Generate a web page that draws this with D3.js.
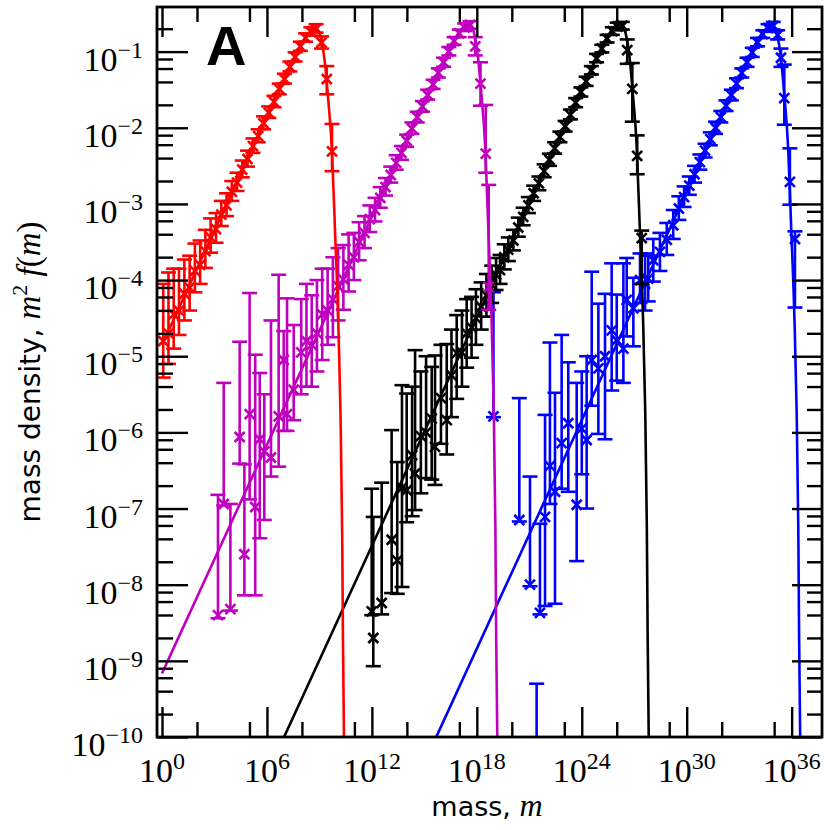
<!DOCTYPE html>
<html><head><meta charset="utf-8">
<script src="https://cdn.jsdelivr.net/npm/d3@7"></script>
<style>body{margin:0;background:#fff}</style>
</head><body>
<svg id="chart" width="830" height="830"></svg>
<script>
// ---------- DATA (log10 of mass m, log10 of m^2 f(m); error bars in decades up / down) ----------
const redCurveLogM = [0,3,5,6.5,7.5,8.0,8.4,8.7,8.9,9.1,9.3,9.5,9.72,9.9,10.08,10.2,10.3,10.35,10.42];
const redCurveLogY = [-4.85,-3.35,-2.35,-1.61,-1.12,-0.89,-0.76,-0.70,-0.72,-0.84,-1.12,-1.62,-2.31,-3.40,-4.55,-5.70,-7.30,-8.80,-10.30];
const magCurveLogM = [0,8.76,11.76,13.76,15.26,16.26,16.76,17.16,17.46,17.66,17.86,18.06,18.26,18.48,18.66,18.84,18.96,19.06,19.11,19.18];
const magCurveLogY = [-9.165,-4.785,-3.285,-2.285,-1.545,-1.055,-0.825,-0.695,-0.635,-0.655,-0.775,-1.055,-1.555,-2.245,-3.335,-4.485,-5.635,-7.235,-8.735,-10.235];
const blkCurveLogM = [6.6,17.42,20.42,22.42,23.92,24.92,25.42,25.82,26.12,26.32,26.52,26.72,26.92,27.14,27.32,27.50,27.62,27.72,27.77,27.84];
const blkCurveLogY = [-10.19,-4.78,-3.28,-2.28,-1.54,-1.05,-0.82,-0.69,-0.63,-0.65,-0.77,-1.05,-1.55,-2.24,-3.33,-4.48,-5.63,-7.23,-8.73,-10.23];
const bluCurveLogM = [15.4,26.08,29.08,31.08,32.58,33.58,34.08,34.48,34.78,34.98,35.18,35.38,35.58,35.80,35.98,36.16,36.28,36.38,36.43,36.50];
const bluCurveLogY = [-10.14,-4.80,-3.30,-2.30,-1.56,-1.07,-0.84,-0.71,-0.65,-0.67,-0.79,-1.07,-1.57,-2.26,-3.35,-4.50,-5.65,-7.25,-8.75,-10.25];

const redLogM = [0.07,0.37,0.67,0.97,1.28,1.58,1.88,2.18,2.48,2.78,3.09,3.39,3.69,3.99,4.29,4.59,4.89,5.20,5.50,5.80,6.10,6.40,6.70,7.00,7.31,7.61,7.91,8.21,8.51,8.81,9.12,9.42,9.72];
const redLogY = [-4.80,-4.70,-4.45,-4.40,-4.18,-4.10,-3.88,-3.80,-3.62,-3.44,-3.33,-3.14,-3.02,-2.84,-2.72,-2.55,-2.41,-2.24,-2.11,-1.94,-1.80,-1.66,-1.49,-1.36,-1.20,-1.07,-0.93,-0.82,-0.74,-0.70,-0.88,-1.36,-2.31];
const redUp = [0.75,0.80,0.60,0.55,0.45,0.42,0.36,0.32,0.28,0.25,0.21,0.18,0.16,0.14,0.13,0.12,0.11,0.10,0.09,0.09,0.08,0.08,0.07,0.07,0.07,0.06,0.06,0.06,0.06,0.06,0.08,0.17,0.36];
const redDn = [0.48,0.40,0.45,0.32,0.35,0.30,0.28,0.25,0.22,0.20,0.18,0.15,0.14,0.12,0.11,0.10,0.10,0.09,0.08,0.08,0.07,0.07,0.07,0.06,0.06,0.06,0.06,0.05,0.05,0.05,0.08,0.20,0.26];

const magLogM = [3.20,3.53,3.91,4.44,4.71,5.01,5.33,5.59,5.85,6.23,6.67,6.96,7.15,7.53,7.96,8.26,8.56,8.86,9.16,9.47,9.77,10.07,10.37,10.67,10.97,11.27,11.58,11.88,12.18,12.48,12.78,13.08,13.39,13.69,13.99,14.29,14.59,14.89,15.19,15.50,15.80,16.10,16.40,16.70,17.00,17.30,17.61,17.91,18.21,18.51,18.68];
const magLogY = [-8.40,-6.94,-8.32,-6.06,-7.60,-5.76,-6.98,-6.09,-6.25,-6.33,-5.79,-5.05,-5.76,-5.44,-4.95,-4.80,-4.85,-4.70,-4.45,-4.40,-4.25,-4.08,-3.99,-3.80,-3.70,-3.50,-3.38,-3.20,-3.08,-2.92,-2.78,-2.62,-2.46,-2.33,-2.17,-2.01,-1.86,-1.72,-1.57,-1.43,-1.28,-1.14,-1.00,-0.86,-0.76,-0.68,-0.65,-0.93,-1.42,-2.34,-4.09];
const magUp = [1.58,1.59,1.38,1.25,1.18,1.59,2.00,0.87,0.75,1.80,1.86,0.38,1.52,0.85,0.70,0.75,0.65,0.70,0.60,0.55,0.55,0.50,0.45,0.40,0.32,0.26,0.22,0.18,0.16,0.14,0.12,0.11,0.10,0.09,0.08,0.08,0.07,0.07,0.07,0.06,0.06,0.06,0.06,0.05,0.05,0.05,0.05,0.12,0.28,0.64,1.34];
const magDn = [0.04,0.02,0.02,0.35,0.54,1.12,1.16,1.30,0.90,0.25,0.66,0.93,0.22,0.40,0.55,0.60,0.55,0.50,0.60,0.45,0.50,0.45,0.40,0.35,0.30,0.24,0.20,0.17,0.15,0.13,0.11,0.10,0.09,0.09,0.08,0.07,0.07,0.07,0.06,0.06,0.06,0.06,0.05,0.05,0.05,0.05,0.05,0.12,0.29,0.25,0.30];

const blkLogM = [11.99,12.08,12.56,13.13,13.45,13.72,13.99,14.30,14.47,14.80,15.10,15.42,15.61,15.95,16.28,16.55,16.85,17.15,17.42,17.70,17.95,18.25,18.55,18.85,19.10,19.33,19.57,19.80,20.09,20.37,20.65,20.95,21.25,21.55,21.85,22.15,22.45,22.75,23.05,23.35,23.65,23.95,24.25,24.55,24.85,25.15,25.45,25.75,26.03,26.32,26.60,26.89,27.17,27.43];
const blkLogY = [-8.35,-8.70,-8.24,-7.41,-7.68,-6.73,-6.76,-6.30,-6.54,-6.05,-6.00,-5.82,-6.19,-5.55,-5.84,-5.25,-4.96,-4.95,-4.70,-4.62,-4.50,-4.35,-4.20,-4.06,-3.93,-3.87,-3.70,-3.60,-3.48,-3.31,-3.17,-3.02,-2.86,-2.73,-2.57,-2.42,-2.27,-2.12,-1.98,-1.83,-1.67,-1.53,-1.39,-1.25,-1.09,-0.96,-0.83,-0.73,-0.67,-0.66,-0.98,-1.49,-2.37,-3.45];
const blkUp = [1.61,1.59,1.58,1.44,1.29,1.35,1.27,0.90,1.62,0.85,1.00,0.68,1.20,0.70,1.00,0.60,0.50,0.55,0.45,0.40,0.38,0.32,0.28,0.25,0.22,0.20,0.17,0.16,0.14,0.13,0.12,0.11,0.10,0.09,0.09,0.08,0.08,0.07,0.07,0.07,0.06,0.06,0.06,0.06,0.06,0.05,0.05,0.05,0.05,0.05,0.14,0.34,0.27,0.10];
const blkDn = [0.05,0.37,0.15,0.70,0.44,1.30,0.42,0.80,0.48,0.75,0.60,0.80,0.50,0.60,0.45,0.55,0.60,0.45,0.45,0.40,0.35,0.30,0.28,0.24,0.20,0.18,0.16,0.15,0.13,0.12,0.11,0.10,0.10,0.09,0.08,0.08,0.07,0.07,0.07,0.06,0.06,0.06,0.06,0.05,0.05,0.05,0.05,0.05,0.05,0.05,0.18,0.43,0.24,0.60];

const bluLogM = [18.95,20.43,21.04,21.42,21.61,21.90,22.18,22.47,22.85,23.23,23.71,24.00,24.28,24.57,24.95,25.33,25.71,26.00,26.38,26.57,26.95,27.33,27.62,27.80,28.09,28.47,28.86,29.23,29.55,29.85,30.15,30.45,30.75,31.05,31.35,31.65,31.95,32.25,32.55,32.85,33.15,33.45,33.75,34.05,34.35,34.65,34.95,35.20,35.39,35.58,35.90,36.19];
const bluLogY = [-5.79,-7.15,-8.00,-10.60,-8.37,-7.11,-6.44,-6.78,-6.14,-5.88,-6.95,-5.95,-6.10,-5.05,-5.16,-5.00,-4.66,-4.79,-4.90,-4.26,-4.37,-4.00,-4.05,-3.98,-3.74,-3.63,-3.47,-3.28,-3.06,-2.91,-2.76,-2.61,-2.45,-2.30,-2.15,-2.00,-1.86,-1.71,-1.57,-1.42,-1.28,-1.14,-1.01,-0.88,-0.77,-0.69,-0.66,-0.78,-1.08,-1.61,-2.71,-3.46];
const bluUp = [1.63,1.60,1.42,1.30,1.17,1.34,1.62,1.30,1.42,0.80,1.60,0.75,1.10,1.16,0.85,0.82,0.88,0.60,1.12,0.55,0.40,0.35,0.40,0.30,0.28,0.25,0.22,0.20,0.16,0.14,0.12,0.11,0.10,0.09,0.09,0.08,0.08,0.07,0.07,0.07,0.06,0.06,0.06,0.06,0.05,0.05,0.05,0.06,0.12,0.44,0.44,0.10];
const bluDn = [0.01,0.02,0.02,0.02,0.02,1.17,0.50,1.47,0.60,0.90,0.74,0.60,0.90,0.60,0.86,1.09,0.79,0.53,0.45,0.48,0.50,0.30,0.35,0.30,0.28,0.25,0.20,0.18,0.15,0.13,0.12,0.11,0.10,0.09,0.08,0.08,0.07,0.07,0.07,0.06,0.06,0.06,0.06,0.05,0.05,0.05,0.05,0.06,0.12,0.35,0.30,0.90];

const xMajorExp = [0,6,12,18,24,30,36];
const xMinorExp = [2,5,8,11,14,17,20,23,26,29,32,35];
const yMajorExp = [-10,-9,-8,-7,-6,-5,-4,-3,-2,-1];
const yMinorMant = [2,4,6,8];

// ---------- LAYOUT ----------
const L = 157, R = 822, T = 7, B = 737;
const svg = d3.select("#chart");
svg.append("rect").attr("width",830).attr("height",830).attr("fill","#fff");

const x = d3.scaleLog().domain([Math.pow(10,-0.286), Math.pow(10,37.736)]).range([L, R]);
const y = d3.scaleLog().domain([1e-10, Math.pow(10,-0.414)]).range([B, T]);

svg.append("clipPath").attr("id","plotclip").append("rect")
  .attr("x",L).attr("y",T).attr("width",R-L).attr("height",B-T);

const plot = svg.append("g").attr("clip-path","url(#plotclip)");

const series = [
  {color:"#0000ff", cm:bluCurveLogM, cy:bluCurveLogY, m:bluLogM, v:bluLogY, up:bluUp, dn:bluDn},
  {color:"#000000", cm:blkCurveLogM, cy:blkCurveLogY, m:blkLogM, v:blkLogY, up:blkUp, dn:blkDn},
  {color:"#bf00bf", cm:magCurveLogM, cy:magCurveLogY, m:magLogM, v:magLogY, up:magUp, dn:magDn},
  {color:"#ff0000", cm:redCurveLogM, cy:redCurveLogY, m:redLogM, v:redLogY, up:redUp, dn:redDn}
];

const P = e => Math.pow(10, e);
const line = d3.line().x(d => x(P(d[0]))).y(d => y(P(d[1]))).curve(d3.curveMonotoneX);

series.forEach(s => {
  const g = plot.append("g");
  const pts = s.cm.map((m,i) => [m, s.cy[i]]);
  g.append("path").attr("d", line(pts)).attr("fill","none")
    .attr("stroke", s.color).attr("stroke-width", 2.6);
  const data = s.m.map((m,i) => ({m, v:s.v[i], up:s.up[i], dn:s.dn[i]}));
  const cap = 7.5, mk = 5;
  data.forEach(d => {
    const cx = x(P(d.m));
    const cy = y(P(d.v));
    const yt = y(P(d.v + d.up));
    const yb = y(P(d.v - d.dn));
    g.append("line").attr("x1",cx).attr("x2",cx).attr("y1",yt).attr("y2",yb)
      .attr("stroke",s.color).attr("stroke-width",2.6);
    g.append("line").attr("x1",cx-cap).attr("x2",cx+cap).attr("y1",yt).attr("y2",yt)
      .attr("stroke",s.color).attr("stroke-width",2.6);
    g.append("line").attr("x1",cx-cap).attr("x2",cx+cap).attr("y1",yb).attr("y2",yb)
      .attr("stroke",s.color).attr("stroke-width",2.6);
    g.append("path")
      .attr("d",`M${cx-mk},${cy-mk}L${cx+mk},${cy+mk}M${cx-mk},${cy+mk}L${cx+mk},${cy-mk}`)
      .attr("stroke",s.color).attr("stroke-width",2.6).attr("fill","none");
  });
});

// ---------- AXES ----------
const yMinorVals = [];
yMajorExp.forEach(e => yMinorMant.forEach(mm => {
  const v = mm * Math.pow(10, e);
  if (v <= y.domain()[1]) yMinorVals.push(v);
}));
const xMaj = xMajorExp.map(P), xMin = xMinorExp.map(P), yMaj = yMajorExp.map(P);

function styleAxis(g){
  g.select(".domain").remove();
  g.selectAll(".tick line").attr("stroke","#000").attr("stroke-width",2.4);
}
const mk = (axisFn, scale, vals, size) =>
  axisFn(scale).tickValues(vals).tickSize(size).tickSizeOuter(0).tickFormat("");

svg.append("g").attr("transform",`translate(0,${B})`).call(mk(d3.axisBottom,x,xMaj,-30)).call(styleAxis);
svg.append("g").attr("transform",`translate(0,${B})`).call(mk(d3.axisBottom,x,xMin,-15)).call(styleAxis);
svg.append("g").attr("transform",`translate(0,${T})`).call(mk(d3.axisTop,x,xMaj,-30)).call(styleAxis);
svg.append("g").attr("transform",`translate(0,${T})`).call(mk(d3.axisTop,x,xMin,-15)).call(styleAxis);
svg.append("g").attr("transform",`translate(${L},0)`).call(mk(d3.axisLeft,y,yMaj,-31)).call(styleAxis);
svg.append("g").attr("transform",`translate(${L},0)`).call(mk(d3.axisLeft,y,yMinorVals,-16)).call(styleAxis);
svg.append("g").attr("transform",`translate(${R},0)`).call(mk(d3.axisRight,y,yMaj,-30)).call(styleAxis);
svg.append("g").attr("transform",`translate(${R},0)`).call(mk(d3.axisRight,y,yMinorVals,-15)).call(styleAxis);

svg.append("rect").attr("x",L).attr("y",T).attr("width",R-L).attr("height",B-T)
  .attr("fill","none").attr("stroke","#000").attr("stroke-width",2.8);

// tick labels
const serif = "'Liberation Serif','Times New Roman',serif";
xMajorExp.forEach(e => {
  const t = svg.append("text").attr("x", x(P(e))).attr("y", 782)
    .attr("text-anchor","middle").attr("font-family",serif).attr("font-size",34).attr("fill","#000");
  t.append("tspan").text("10");
  t.append("tspan").attr("dy",-13).attr("font-size",24).text(String(e));
});
yMajorExp.forEach(e => {
  const t = svg.append("text").attr("x", 143).attr("y", y(P(e)) + 19)
    .attr("text-anchor","end").attr("font-family",serif).attr("font-size",34).attr("fill","#000");
  t.append("tspan").text("10");
  t.append("tspan").attr("dy",-13).attr("font-size",24).text("\u2212" + String(-e));
});

// axis titles
const sans = "'DejaVu Sans','Verdana',sans-serif";
const xt = svg.append("text").attr("x", 487).attr("y", 816).attr("text-anchor","middle")
  .attr("font-family",sans).attr("font-size",27).attr("fill","#000");
xt.append("tspan").text("mass, ");
xt.append("tspan").attr("font-family",serif).attr("font-style","italic").attr("font-size",32).text("m");

const yt = svg.append("text").attr("transform","translate(40,372) rotate(-90)").attr("text-anchor","middle")
  .attr("font-family",sans).attr("font-size",28).attr("fill","#000");
yt.append("tspan").text("mass density, ");
yt.append("tspan").attr("font-family",serif).attr("font-style","italic").attr("font-size",33).text("m");
yt.append("tspan").attr("font-family",serif).attr("font-size",22).attr("dy",-13).text("2");
yt.append("tspan").attr("font-family",serif).attr("font-style","italic").attr("font-size",33).attr("dy",13).text(" f");
yt.append("tspan").attr("font-family",serif).attr("font-size",33).text("(");
yt.append("tspan").attr("font-family",serif).attr("font-style","italic").attr("font-size",33).text("m");
yt.append("tspan").attr("font-family",serif).attr("font-size",33).text(")");

// panel letter
svg.append("text").attr("x",206).attr("y",65).attr("font-family","'Liberation Sans',Arial,sans-serif")
  .attr("font-weight","bold").attr("font-size",56).attr("fill","#000").text("A");
</script>
</body></html>
